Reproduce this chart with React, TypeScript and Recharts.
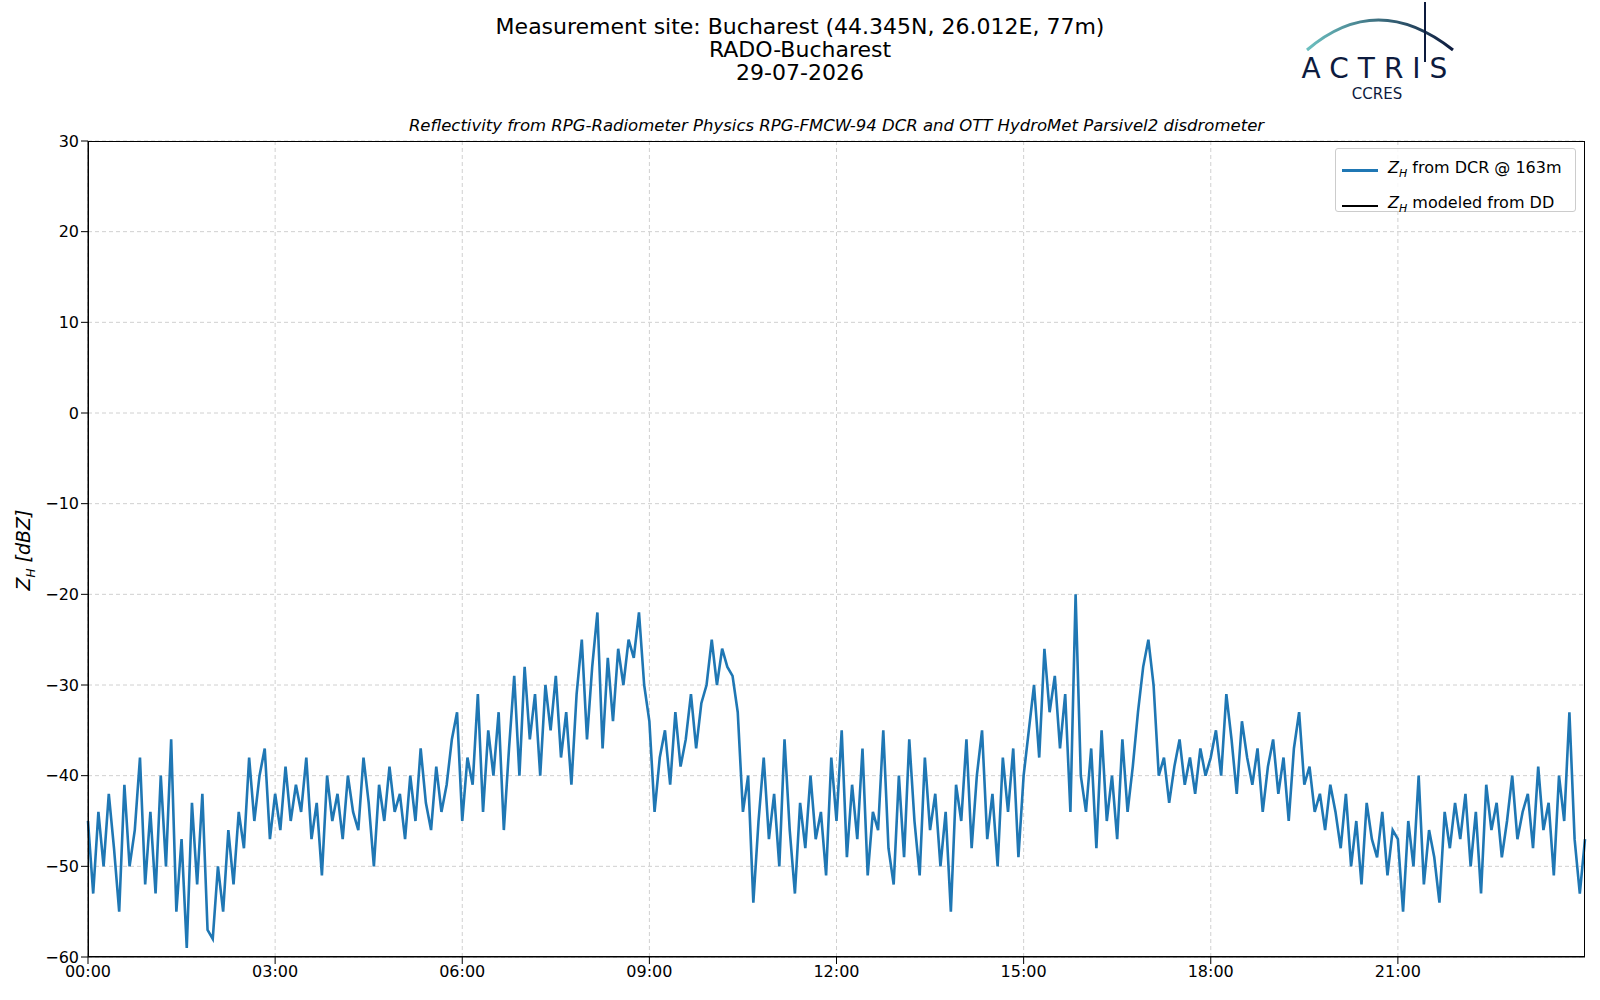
import React from 'react';
import { LineChart, Line, XAxis, YAxis, CartesianGrid } from 'recharts';

// Z_H from DCR, one value every 5 minutes, 12 per hour
const dcrValues = [
  -45, -53, -44, -50, -42, -48, -55, -41, -50, -46, -38, -52,
  -44, -53, -40, -50, -36, -55, -47, -59, -43, -52, -42, -57,
  -58, -50, -55, -46, -52, -44, -48, -38, -45, -40, -37, -47,
  -42, -46, -39, -45, -41, -44, -38, -47, -43, -51, -40, -45,
  -42, -47, -40, -44, -46, -38, -43, -50, -41, -45, -39, -44,
  -42, -47, -40, -45, -37, -43, -46, -39, -44, -41, -36, -33,
  -45, -38, -41, -31, -44, -35, -40, -33, -46, -37, -29, -40,
  -28, -36, -31, -40, -30, -35, -29, -38, -33, -41, -31, -25,
  -36, -28, -22, -37, -27, -34, -26, -30, -25, -27, -22, -30,
  -34, -44, -38, -35, -41, -33, -39, -36, -31, -37, -32, -30,
  -25, -30, -26, -28, -29, -33, -44, -40, -54, -45, -38, -47,
  -42, -50, -36, -46, -53, -43, -48, -40, -47, -44, -51, -38,
  -45, -35, -49, -41, -47, -37, -51, -44, -46, -35, -48, -52,
  -40, -49, -36, -45, -51, -38, -46, -42, -50, -44, -55, -41,
  -45, -36, -48, -40, -35, -47, -42, -50, -38, -44, -37, -49,
  -40, -35, -30, -38, -26, -33, -29, -37, -31, -44, -20, -40,
  -44, -37, -48, -35, -45, -40, -47, -36, -44, -39, -33, -28,
  -25, -30, -40, -38, -43, -39, -36, -41, -38, -42, -37, -40,
  -38, -35, -40, -31, -36, -42, -34, -38, -41, -37, -44, -39,
  -36, -42, -38, -45, -37, -33, -41, -39, -44, -42, -46, -41,
  -44, -48, -42, -50, -45, -52, -43, -47, -49, -44, -51, -46,
  -47, -55, -45, -50, -40, -52, -46, -49, -54, -44, -48, -43,
  -47, -42, -50, -44, -53, -41, -46, -43, -49, -45, -40, -47,
  -44, -42, -48, -39, -46, -43, -51, -40, -45, -33, -47, -53,
  -47,
];
const stepMinutes = 5;
const timeMinutes = dcrValues.map((_, i) => i * stepMinutes);
const xTicks = [0, 180, 360, 540, 720, 900, 1080, 1260];
const xMinorTicks = Array.from({ length: 25 }, (_, i) => i * 60);
const yTicks = [-60, -50, -40, -30, -20, -10, 0, 10, 20, 30];
const yMinorTicks = Array.from({ length: 46 }, (_, i) => -60 + i * 2);

const data = timeMinutes.map((t, i) => ({ t, dcr: dcrValues[i], dd: null }));

const fmtTime = (m: number) => {
  const h = Math.floor(m / 60);
  const mm = m % 60;
  return `${String(h).padStart(2, '0')}:${String(mm).padStart(2, '0')}`;
};

const font = 'DejaVu Sans, sans-serif';
const tickStyle = { fontSize: 16, fill: '#000', fontFamily: font };

const PL = 88, PR = 1585, PT = 141, PB = 957;

const ZH = () => (
  <span style={{ fontStyle: 'italic' }}>
    Z<sub style={{ fontSize: 11 }}>H</sub>
  </span>
);

const App = () => (
  <div style={{ position: 'fixed', left: 0, top: 0, width: 1600, height: 1000, background: '#fff', fontFamily: font }}>
    <div style={{ position: 'absolute', left: 0, width: 1600, top: 15, textAlign: 'center', fontSize: 22, lineHeight: '23px' }}>
      <div>Measurement site: Bucharest (44.345N, 26.012E, 77m)</div>
      <div>RADO-Bucharest</div>
      <div>29-07-2026</div>
    </div>
    <div style={{ position: 'absolute', left: PL, width: PR - PL, top: 116, textAlign: 'center', fontSize: 16.5, fontStyle: 'italic' }}>
      Reflectivity from RPG-Radiometer Physics RPG-FMCW-94 DCR and OTT HydroMet Parsivel2 disdrometer
    </div>
    <svg style={{ position: 'absolute', left: 1287, top: 0 }} width={180} height={108}>
      <defs>
        <linearGradient id="arc" x1="0" x2="1">
          <stop offset="0" stopColor="#6cc0c0" />
          <stop offset="1" stopColor="#0d1b3e" />
        </linearGradient>
      </defs>
      <path d="M20 50 Q 90 -10 166 50" stroke="url(#arc)" strokeWidth={3} fill="none" />
      <line x1={138} y1={2} x2={138} y2={62} stroke="#0d1b3e" strokeWidth={2} />
      <text x={92} y={78} textAnchor="middle" fontSize={28} letterSpacing={9} fill="#0d1b3e" fontFamily={font}>ACTRIS</text>
      <text x={90} y={99} textAnchor="middle" fontSize={15} fill="#0d1b3e" fontFamily={font}>CCRES</text>
    </svg>
    <div style={{ position: 'absolute', left: 12, top: 610, transform: 'rotate(-90deg)', transformOrigin: 'left top', fontSize: 19, whiteSpace: 'nowrap', width: 120, textAlign: 'center' }}>
      <span style={{ fontStyle: 'italic' }}>Z<sub style={{ fontSize: 12 }}>H</sub> [dBZ]</span>
    </div>
    <div style={{ position: 'absolute', left: 0, top: 0 }}>
      <LineChart width={1600} height={1000} data={data} margin={{ top: PT, right: 1600 - PR, bottom: 1000 - PB - 30, left: 0 }}>
        <CartesianGrid stroke="#d0d0d0" strokeDasharray="4 3" verticalValues={xTicks} horizontalValues={yTicks} />
        <XAxis dataKey="t" type="number" domain={[0, 1440]} ticks={xTicks} tickFormatter={fmtTime} tick={tickStyle} tickSize={7} stroke="#000" height={30} />
        <XAxis xAxisId="minor" dataKey="t" type="number" domain={[0, 1440]} ticks={xMinorTicks} tickFormatter={() => ''} tickSize={4} axisLine={false} tickLine={{ stroke: '#000' }} height={0} />
        <YAxis type="number" domain={[-60, 30]} ticks={yTicks} tick={tickStyle} tickSize={7} stroke="#000" width={PL} tickFormatter={(v: number) => (v < 0 ? `\u2212${-v}` : `${v}`)} />
        <YAxis yAxisId="minor" type="number" domain={[-60, 30]} ticks={yMinorTicks} tickFormatter={() => ''} tickSize={4} axisLine={false} tickLine={{ stroke: '#000' }} width={0} />
        <Line dataKey="dcr" stroke="#1f77b4" strokeWidth={2.6} dot={false} isAnimationActive={false} />
        <Line dataKey="dd" stroke="#000" strokeWidth={2} dot={false} isAnimationActive={false} />
        <Line xAxisId="minor" yAxisId="minor" dataKey="dd" stroke="none" dot={false} isAnimationActive={false} />
      </LineChart>
    </div>
    <div style={{ position: 'absolute', left: PL, top: PT, width: PR - PL, height: PB - PT, border: '1px solid #000', boxSizing: 'border-box', pointerEvents: 'none' }} />
    <div style={{ position: 'absolute', left: 1335, top: 148, width: 241, height: 64, background: 'rgba(255,255,255,0.85)', border: '1px solid #ccc', borderRadius: 3, fontSize: 16, padding: '4px 0 0 6px', boxSizing: 'border-box', lineHeight: '29px' }}>
      <div style={{ display: 'flex', alignItems: 'center' }}>
        <span style={{ display: 'inline-block', width: 36, height: 2.5, background: '#1f77b4', marginRight: 10 }} />
        <span><ZH /> from DCR @ 163m</span>
      </div>
      <div style={{ display: 'flex', alignItems: 'center' }}>
        <span style={{ display: 'inline-block', width: 36, height: 2.5, background: '#000', marginRight: 10 }} />
        <span><ZH /> modeled from DD</span>
      </div>
    </div>
  </div>
);

export default App;
